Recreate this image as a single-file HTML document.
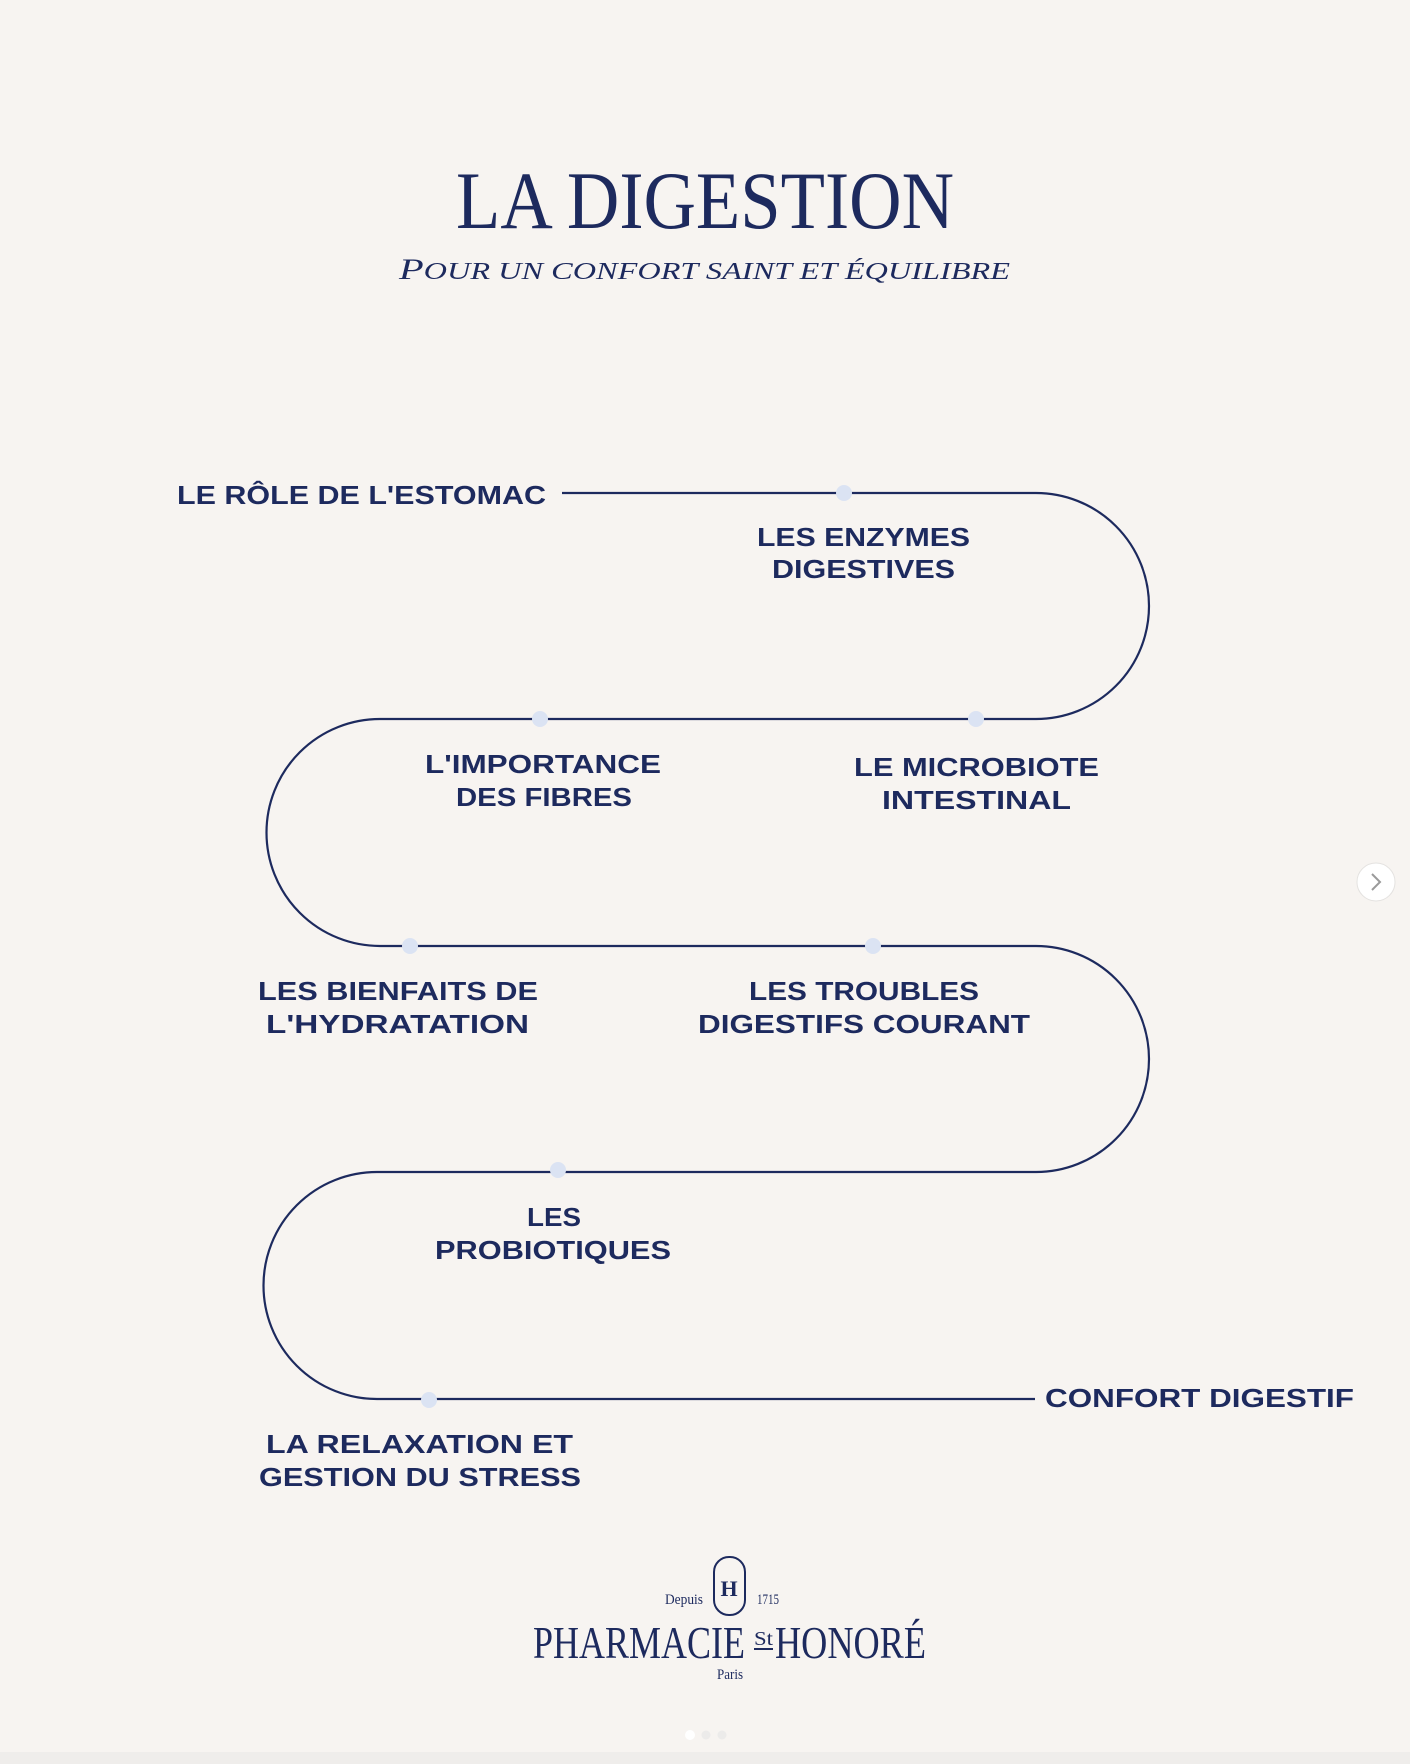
<!DOCTYPE html>
<html><head><meta charset="utf-8"><style>
html,body{margin:0;padding:0;background:#f7f4f1;}
svg{display:block;}
</style></head><body>
<svg width="1410" height="1764" viewBox="0 0 1410 1764" xmlns="http://www.w3.org/2000/svg">
<rect width="1410" height="1764" fill="#f7f4f1"/>
<rect y="1752" width="1410" height="12" fill="#efedeb"/>
<g fill="#1d2a5e" font-family="Liberation Serif, serif">
<text x="456" y="228" font-size="82" textLength="498" lengthAdjust="spacingAndGlyphs">LA DIGESTION</text>
<text x="399" y="279" font-size="30" font-style="italic" textLength="611" lengthAdjust="spacingAndGlyphs">P<tspan font-size="24">OUR UN CONFORT SAINT ET ÉQUILIBRE</tspan></text>
</g>
<path d="M562 493 H1036 A113 113 0 0 1 1036 719 H380 A113.5 113.5 0 0 0 380 946 H1036 A113 113 0 0 1 1036 1172 H377 A113.5 113.5 0 0 0 377 1399 H1035" fill="none" stroke="#1d2a5e" stroke-width="2.2"/>
<g fill="#dbe3f3">
<circle cx="844" cy="493" r="8"/><circle cx="540" cy="719" r="8"/><circle cx="976" cy="719" r="8"/>
<circle cx="410" cy="946" r="8"/><circle cx="873" cy="946" r="8"/><circle cx="558" cy="1170" r="8"/>
<circle cx="429" cy="1400" r="8"/>
</g>
<g fill="#1d2a5e" font-family="Liberation Sans, sans-serif" font-weight="bold" font-size="26">
<text x="177" y="504" textLength="369" lengthAdjust="spacingAndGlyphs">LE RÔLE DE L'ESTOMAC</text>
<text x="757" y="546" textLength="213" lengthAdjust="spacingAndGlyphs">LES ENZYMES</text>
<text x="772" y="578" textLength="183" lengthAdjust="spacingAndGlyphs">DIGESTIVES</text>
<text x="425" y="773" textLength="236" lengthAdjust="spacingAndGlyphs">L'IMPORTANCE</text>
<text x="456" y="806" textLength="176" lengthAdjust="spacingAndGlyphs">DES FIBRES</text>
<text x="854" y="776" textLength="245" lengthAdjust="spacingAndGlyphs">LE MICROBIOTE</text>
<text x="882" y="809" textLength="189" lengthAdjust="spacingAndGlyphs">INTESTINAL</text>
<text x="258" y="1000" textLength="280" lengthAdjust="spacingAndGlyphs">LES BIENFAITS DE</text>
<text x="266" y="1033" textLength="263" lengthAdjust="spacingAndGlyphs">L'HYDRATATION</text>
<text x="749" y="1000" textLength="230" lengthAdjust="spacingAndGlyphs">LES TROUBLES</text>
<text x="698" y="1033" textLength="332" lengthAdjust="spacingAndGlyphs">DIGESTIFS COURANT</text>
<text x="527" y="1226" textLength="54" lengthAdjust="spacingAndGlyphs">LES</text>
<text x="435" y="1259" textLength="236" lengthAdjust="spacingAndGlyphs">PROBIOTIQUES</text>
<text x="1045" y="1407" textLength="309" lengthAdjust="spacingAndGlyphs">CONFORT DIGESTIF</text>
<text x="266" y="1453" textLength="307" lengthAdjust="spacingAndGlyphs">LA RELAXATION ET</text>
<text x="259" y="1486" textLength="322" lengthAdjust="spacingAndGlyphs">GESTION DU STRESS</text>
</g>
<circle cx="1376" cy="882" r="19" fill="#fff" stroke="#e4e2e0"/>
<path d="M1372 874 L1380 882 L1372 890" fill="none" stroke="#9a9a9a" stroke-width="2"/>
<g fill="#1d2a5e" font-family="Liberation Serif, serif">
<rect x="714" y="1557" width="31" height="58" rx="15" fill="none" stroke="#1d2a5e" stroke-width="2"/>
<text x="729" y="1596" font-size="22" text-anchor="middle" font-weight="bold">H</text>
<text x="665" y="1604" font-size="15" textLength="38" lengthAdjust="spacingAndGlyphs">Depuis</text>
<text x="757" y="1604" font-size="15" textLength="22" lengthAdjust="spacingAndGlyphs">1715</text>
<text x="533" y="1658" font-size="46" textLength="212" lengthAdjust="spacingAndGlyphs">PHARMACIE</text>
<text x="754" y="1645" font-size="20" textLength="19" lengthAdjust="spacingAndGlyphs">St</text>
<rect x="754" y="1648" width="19" height="2"/>
<text x="775" y="1658" font-size="46" textLength="151" lengthAdjust="spacingAndGlyphs">HONORÉ</text>
<text x="717" y="1679" font-size="15" textLength="26" lengthAdjust="spacingAndGlyphs">Paris</text>
</g>
<circle cx="690" cy="1735" r="5" fill="#fff"/>
<circle cx="706" cy="1735" r="4.5" fill="#ecebea"/>
<circle cx="722" cy="1735" r="4.5" fill="#ecebea"/>
</svg>
</body></html>
